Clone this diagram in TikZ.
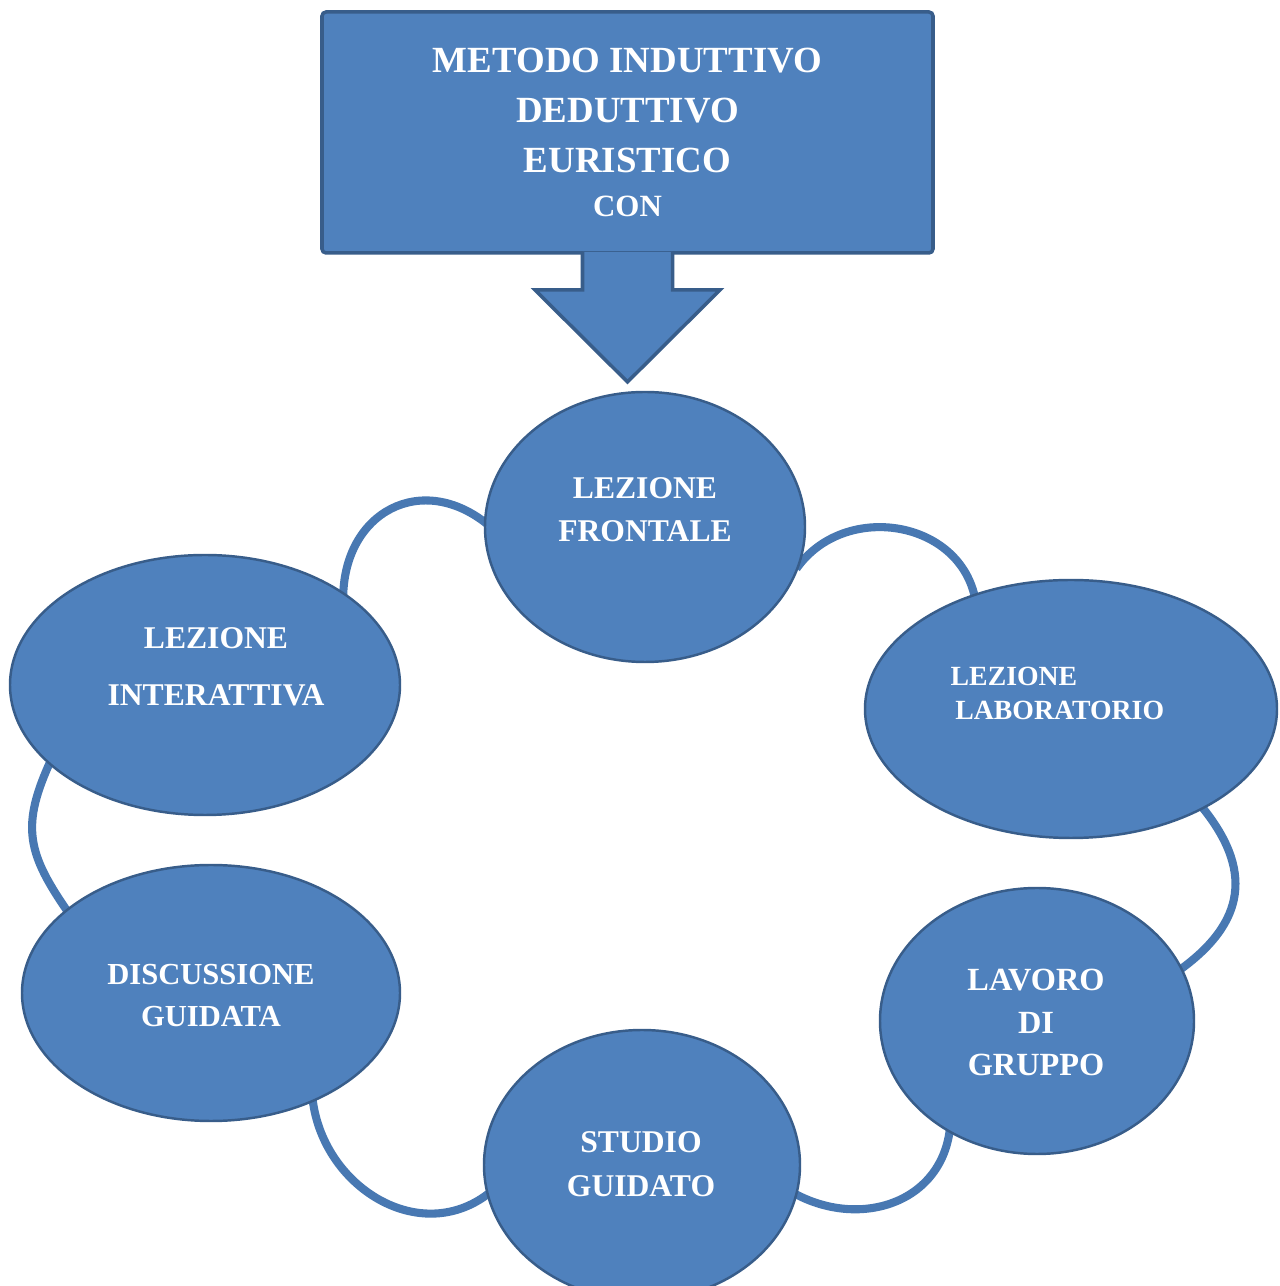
\documentclass[tikz,border=0pt]{standalone}
\usepackage{fontspec}
\setmainfont{Liberation Serif}
\usepackage{pgf,tikz}
\usetikzlibrary{shapes.geometric}
\usetikzlibrary{backgrounds}

\definecolor{boxblue}{RGB}{79,129,189}
\definecolor{edgeblue}{RGB}{56,93,138}
\definecolor{linkblue}{RGB}{72,120,178}

\begin{document}
\begin{tikzpicture}[x=0.1mm,y=0.1mm]
\tikzstyle{bubble}=[ellipse,draw=edgeblue,fill=boxblue,line width=0.7pt]
\tikzstyle{txt}=[text=white,align=center,inner sep=0pt]
\tikzstyle{link}=[draw=linkblue,line width=2.3pt,looseness=1.1,shorten <=-2pt,shorten >=-2pt]

\useasboundingbox (0,0) rectangle (1279,1286);

% box with the arrow
\node[rectangle,rounded corners=0.4mm,draw=edgeblue,fill=boxblue,line width=1pt,
      minimum width=61.1mm,minimum height=24.1mm,text=white,align=center,
      font=\bfseries\fontsize{10.5}{14.2}\selectfont] (metodo) at (627.5,1153.5)
      {METODO INDUTTIVO\\DEDUTTIVO\\EURISTICO\\[-1.7pt]{\fontsize{8.8}{10}\selectfont CON}};
\path[fill=boxblue,draw=edgeblue,line width=1pt]
  ([xshift=-4.5mm,yshift=0.8pt]metodo.south) -- ++(0,-38) -- ++(-47.5,0)
  -- ++(92.5,-92) -- ++(92.5,92) -- ++(-47.5,0) -- ++(0,38);

% the ring of lessons
\node[bubble,minimum width=32mm,minimum height=27mm] (frontale) at (645,759) {};
\node[bubble,minimum width=39mm,minimum height=26mm] (inter) at (205,601) {};
\node[bubble,minimum width=41.2mm,minimum height=25.8mm] (lab) at (1071,577) {};
\node[bubble,minimum width=31.4mm,minimum height=26.6mm] (gruppo) at (1037,265) {};
\node[bubble,minimum width=31.6mm,minimum height=27mm] (studio) at (642,121) {};
\node[bubble,minimum width=37.8mm,minimum height=25.6mm] (disc) at (211,293) {};

\node[txt,font=\bfseries\fontsize{9}{12.2}\selectfont] (tfrontale) at (645,776.5) {LEZIONE\\FRONTALE};
\node[txt,font=\bfseries\fontsize{9}{16.2}\selectfont] (tinter) at (216,619.5) {LEZIONE\\INTERATTIVA};
\node[txt,align=left,anchor=west,font=\bfseries\fontsize{7.9}{9.7}\selectfont] (tlab) at (950,593) {LEZIONE\\\,LABORATORIO};
\node[txt,font=\bfseries\fontsize{9.2}{12.1}\selectfont] (tgruppo) at (1036,263.5) {LAVORO\\DI\\GRUPPO};
\node[txt,font=\bfseries\fontsize{9}{12.5}\selectfont] (tstudio) at (641,122) {STUDIO\\GUIDATO};
\node[txt,font=\bfseries\fontsize{8.7}{11.7}\selectfont] (tdisc) at (211,290.5) {DISCUSSIONE\\GUIDATA};

\begin{scope}[on background layer]
\fill[white] (0,0) rectangle (1279,1286);
\draw[link,looseness=1.3] (inter.34) to[out=90,in=140] (frontale.178);
\draw[link] (frontale.-13) to[out=55,in=100] (lab.130);
\draw[link,looseness=1.25] (lab.-37) to[out=-50,in=35] (gruppo.20);
\draw[link] (gruppo.-128) to[out=-95,in=-30] (studio.-11);
\draw[link] (studio.191) to[out=-140,in=-85] (disc.-47);
\draw[link,looseness=1.2] (disc.150) to[out=125,in=-115] (inter.207);
\end{scope}

\end{tikzpicture}
\end{document}
